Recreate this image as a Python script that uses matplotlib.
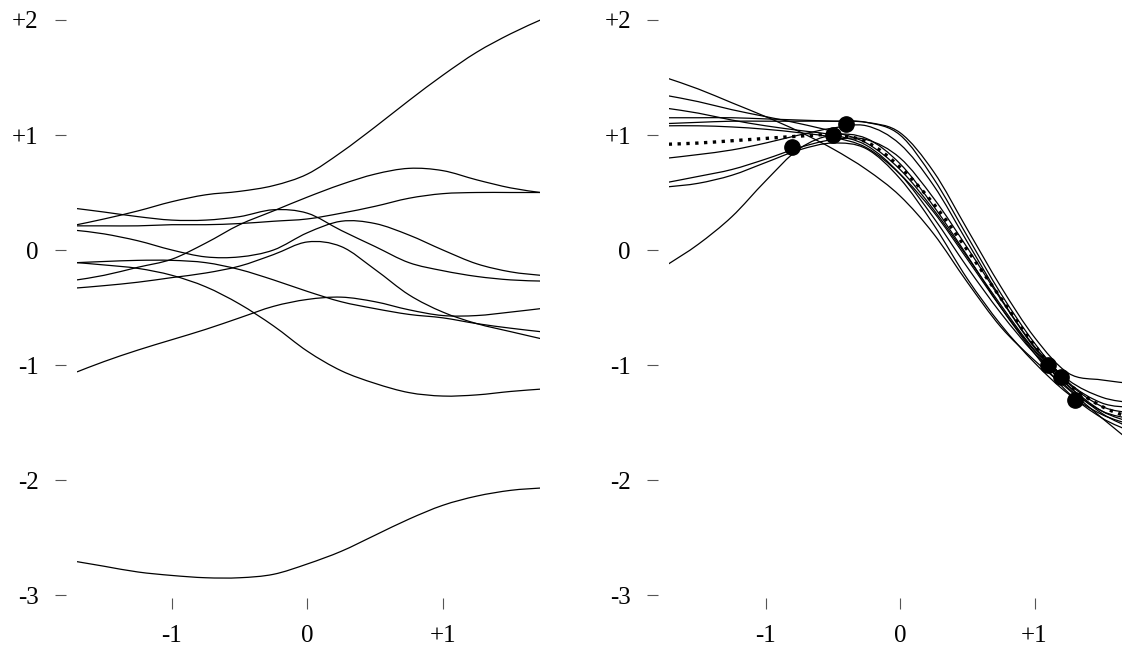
import matplotlib
matplotlib.use("Agg")
import matplotlib.pyplot as plt
from matplotlib.path import Path
from matplotlib.patches import PathPatch

plt.rcParams['font.family'] = ['Liberation Serif', 'DejaVu Serif']

# ---------------- data ----------------
x_left = [-1.7, -1.5, -1.25, -1.0, -0.75, -0.5, -0.25, 0.0, 0.25, 0.5, 0.75, 1.0, 1.25, 1.5, 1.72]

prior_a = [0.22, 0.27, 0.34, 0.42, 0.48, 0.51, 0.56, 0.66, 0.85, 1.07, 1.30, 1.52, 1.72, 1.88, 2.00]
prior_b = [0.36, 0.33, 0.29, 0.26, 0.26, 0.29, 0.35, 0.32, 0.17, 0.03, -0.11, -0.18, -0.23, -0.26, -0.27]
prior_c = [0.21, 0.21, 0.21, 0.22, 0.22, 0.23, 0.25, 0.27, 0.32, 0.38, 0.45, 0.49, 0.50, 0.50, 0.50]
prior_d = [0.17, 0.14, 0.08, 0.00, -0.06, -0.06, 0.00, 0.15, 0.25, 0.23, 0.13, 0.00, -0.12, -0.19, -0.22]
prior_e = [-0.11, -0.10, -0.09, -0.09, -0.11, -0.17, -0.26, -0.36, -0.45, -0.51, -0.56, -0.59, -0.64, -0.68, -0.71]
prior_f = [-0.26, -0.22, -0.15, -0.08, 0.06, 0.22, 0.34, 0.46, 0.57, 0.66, 0.71, 0.69, 0.61, 0.54, 0.50]
prior_g = [-0.33, -0.31, -0.28, -0.24, -0.20, -0.14, -0.04, 0.07, 0.03, -0.17, -0.39, -0.54, -0.64, -0.71, -0.77]
prior_h = [-0.11, -0.13, -0.16, -0.22, -0.32, -0.47, -0.66, -0.88, -1.05, -1.16, -1.24, -1.27, -1.26, -1.23, -1.21]
prior_i = [-1.06, -0.97, -0.87, -0.78, -0.69, -0.59, -0.49, -0.43, -0.41, -0.45, -0.52, -0.57, -0.57, -0.54, -0.51]
prior_j = [-2.71, -2.75, -2.80, -2.83, -2.85, -2.85, -2.82, -2.73, -2.62, -2.48, -2.34, -2.22, -2.14, -2.09, -2.07]
prior_samples = [prior_a, prior_b, prior_c, prior_d, prior_e, prior_f, prior_g, prior_h, prior_i, prior_j]

x_right = [-1.72, -1.5, -1.25, -1.0, -0.75, -0.5, -0.25, 0.0, 0.25, 0.5, 0.75, 1.0, 1.25, 1.5, 1.72]

post_1 = [1.49, 1.40, 1.28, 1.16, 1.03, 0.88, 0.70, 0.47, 0.14, -0.28, -0.67, -0.96, -1.21, -1.46, -1.67]
post_2 = [1.34, 1.29, 1.22, 1.16, 1.10, 1.03, 0.93, 0.70, 0.35, -0.06, -0.48, -0.87, -1.16, -1.36, -1.42]
post_3 = [1.23, 1.19, 1.13, 1.08, 1.04, 1.00, 0.91, 0.66, 0.28, -0.15, -0.55, -0.90, -1.18, -1.40, -1.50]
post_4 = [1.15, 1.15, 1.15, 1.14, 1.13, 1.12, 1.11, 1.02, 0.68, 0.18, -0.32, -0.76, -1.07, -1.13, -1.16]
post_5 = [1.10, 1.11, 1.12, 1.12, 1.12, 1.12, 1.11, 1.00, 0.62, 0.12, -0.38, -0.81, -1.15, -1.33, -1.37]
post_6 = [1.08, 1.08, 1.07, 1.05, 1.02, 0.98, 0.89, 0.66, 0.33, -0.08, -0.50, -0.88, -1.20, -1.40, -1.47]
post_7 = [0.80, 0.83, 0.87, 0.93, 1.00, 1.06, 1.08, 0.92, 0.56, 0.07, -0.42, -0.84, -1.13, -1.28, -1.33]
post_8 = [0.59, 0.64, 0.70, 0.79, 0.89, 0.96, 0.96, 0.80, 0.45, 0.02, -0.43, -0.85, -1.18, -1.42, -1.55]
post_9 = [0.55, 0.58, 0.65, 0.76, 0.87, 0.93, 0.88, 0.62, 0.22, -0.25, -0.65, -0.98, -1.25, -1.43, -1.52]
post_10 = [-0.12, 0.05, 0.29, 0.60, 0.88, 1.00, 0.97, 0.75, 0.38, -0.05, -0.50, -0.90, -1.24, -1.46, -1.58]
post_samples = [post_1, post_2, post_3, post_4, post_5, post_6, post_7, post_8, post_9, post_10]

post_mean = [0.92, 0.93, 0.95, 0.97, 0.99, 1.00, 0.94, 0.72, 0.40, 0.00, -0.42, -0.83, -1.16, -1.36, -1.46]

obs_x = [-0.8, -0.5, -0.4, 1.1, 1.2, 1.3]
obs_y = [0.9, 1.0, 1.1, -1.0, -1.1, -1.3]

y_ticks = [-3, -2, -1, 0, 1, 2]
y_tick_labels = ['-3', '-2', '-1', '0', '+1', '+2']
x_ticks = [-1, 0, 1]
x_tick_labels = ['-1', '0', '+1']

# ---------------- figure ----------------
W, H = 1122, 647
fig = plt.figure(figsize=(W / 100, H / 100), dpi=100)

y_lo, y_hi = -3.03, 2.03
px_per_y = 115.0
ax_bottom_px = 250 + 3.03 * px_per_y
ax_h_px = (y_hi - y_lo) * px_per_y


def make_axes(left_px, x0, x1, px_per_x, outward_pt):
    width_px = (x1 - x0) * px_per_x
    ax = fig.add_axes([left_px / W, (H - ax_bottom_px) / H, width_px / W, ax_h_px / H])
    ax.set_xlim(x0, x1)
    ax.set_ylim(y_lo, y_hi)
    for s in ['top', 'right']:
        ax.spines[s].set_visible(False)
    ax.spines['left'].set_position(('outward', outward_pt))
    ax.spines['bottom'].set_position(('outward', 0))
    ax.spines['left'].set_visible(False)
    ax.spines['bottom'].set_visible(False)
    ax.set_yticks(y_ticks)
    ax.set_yticklabels(y_tick_labels)
    ax.set_xticks(x_ticks)
    ax.set_xticklabels(x_tick_labels)
    ax.tick_params(axis='y', direction='out', length=8, width=0.8, color='#555555',
                   pad=11.5, labelsize=18, labelcolor='black')
    ax.tick_params(axis='x', direction='out', length=8, width=0.8, color='#555555',
                   pad=11, labelsize=18, labelcolor='black')
    ax.patch.set_alpha(0)
    return ax


def smooth_curve(ax, xs, ys, **kw):
    """Draw a smooth curve through the given points (Catmull-Rom as cubic Bezier path)."""
    n = len(xs)
    verts = [(xs[0], ys[0])]
    codes = [Path.MOVETO]
    for i in range(n - 1):
        x0, y0 = xs[max(i - 1, 0)], ys[max(i - 1, 0)]
        x1, y1 = xs[i], ys[i]
        x2, y2 = xs[i + 1], ys[i + 1]
        x3, y3 = xs[min(i + 2, n - 1)], ys[min(i + 2, n - 1)]
        c1 = (x1 + (x2 - x0) / 6.0, y1 + (y2 - y0) / 6.0)
        c2 = (x2 - (x3 - x1) / 6.0, y2 - (y3 - y1) / 6.0)
        verts += [c1, c2, (x2, y2)]
        codes += [Path.CURVE4, Path.CURVE4, Path.CURVE4]
    patch = PathPatch(Path(verts, codes), fill=False, **kw)
    ax.add_patch(patch)
    return patch


ax1 = make_axes(77, -1.70, 1.72, 135.5, 8)
ax2 = make_axes(668.7, -1.72, 1.72, 134.5, 7.7)

for ys in prior_samples:
    smooth_curve(ax1, x_left, ys, edgecolor='black', lw=0.9)

for ys in post_samples:
    smooth_curve(ax2, x_right, ys, edgecolor='black', lw=0.9)
smooth_curve(ax2, x_right, post_mean, edgecolor='black', lw=2.4, linestyle=':',
             capstyle='butt')
ax2.plot(obs_x, obs_y, 'o', color='black', markersize=11, zorder=5)

fig.savefig('out.png', dpi=100)
